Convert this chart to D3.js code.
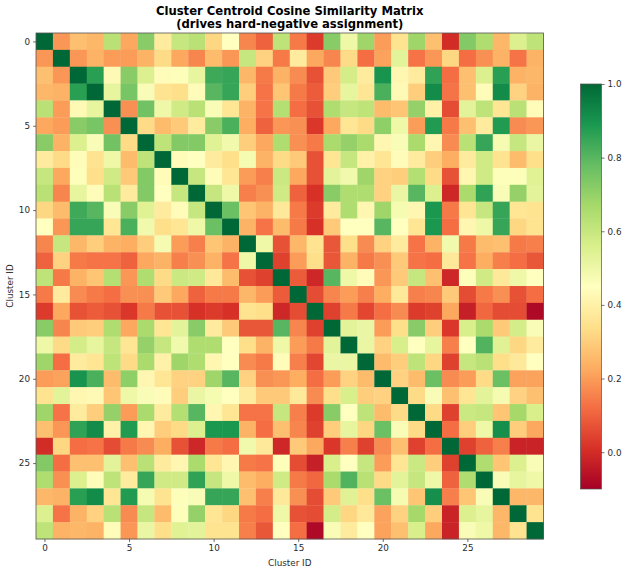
<!DOCTYPE html>
<html>
<head>
<meta charset="utf-8">
<script src="https://cdnjs.cloudflare.com/ajax/libs/d3/7.8.5/d3.min.js"></script>
<style>
  html, body { margin: 0; padding: 0; background: #fff; }
  svg { display: block; }
  text { font-family: "DejaVu Sans", sans-serif; fill: #2b2b2b; }
</style>
</head>
<body>
<svg id="chart" width="628" height="573"></svg>
<script>
// Upper triangle of the centroid similarity matrix, one list per cluster,
// each starting at its own diagonal entry.
const row00 = [1,.19,.27,.25,.63,.22,.72,.38,.6,.63,.32,.45,.16,.1,.62,.14,.03,.72,.5,.68,.2,.35,.68,.27,0,.73,.65,.25,.55,.62];
const row01 = [1,.19,.24,.2,.2,.24,.33,.22,.16,.26,.19,.6,.31,.14,.38,.22,.16,.33,.12,.21,.53,.13,.19,.32,.12,.18,.24,.13,.24];
const row02 = [1,.87,.43,.72,.55,.44,.46,.52,.84,.85,.25,.14,.24,.17,.07,.29,.57,.38,.9,.42,.38,.86,.12,.27,.55,.87,.24,.25];
const row03 = [1,.52,.75,.47,.35,.34,.44,.8,.85,.3,.13,.28,.14,.09,.3,.52,.36,.82,.43,.3,.92,.13,.27,.44,.92,.31,.24];
const row04 = [1,.18,.76,.5,.58,.63,.47,.36,.24,.13,.64,.12,.07,.65,.6,.62,.26,.28,.7,.4,.06,.53,.62,.36,.63,.44];
const row05 = [1,.33,.26,.29,.38,.72,.82,.23,.1,.19,.18,.02,.22,.36,.33,.71,.5,.2,.88,.14,.27,.38,.88,.17,.19];
const row06 = [1,.62,.73,.73,.54,.49,.3,.22,.65,.18,.14,.66,.7,.66,.42,.47,.66,.42,.17,.63,.85,.48,.6,.51];
const row07 = [1,.44,.45,.38,.34,.48,.24,.33,.29,.07,.36,.6,.4,.36,.44,.38,.3,.23,.38,.58,.35,.26,.34];
const row08 = [1,.6,.44,.36,.2,.15,.59,.22,.07,.53,.49,.68,.31,.3,.64,.33,.07,.42,.58,.46,.46,.54];
const row09 = [1,.6,.5,.15,.18,.58,.1,.01,.72,.65,.65,.31,.51,.8,.55,-.01,.66,.86,.47,.7,.53];
const row10 = [1,.77,.28,.24,.37,.14,.03,.38,.65,.42,.68,.48,.42,.89,.14,.36,.6,.85,.36,.35];
const row11 = [1,.24,.13,.26,.14,.01,.29,.45,.45,.8,.45,.36,.89,.12,.42,.5,.85,.32,.35];
const row12 = [1,.5,.07,.25,.35,.08,.34,.17,.31,.38,.13,.24,.49,.14,.26,.27,.14,.15];
const row13 = [1,.04,.2,.34,.08,.24,.14,.18,.29,.13,.12,.37,.13,.23,.15,.12,.08];
const row14 = [1,.09,-.01,.8,.5,.44,.19,.29,.6,.27,-.01,.46,.58,.37,.5,.45];
const row15 = [1,.06,.16,.2,.15,.23,.37,.15,.16,.29,.06,.14,.18,.07,.12];
const row16 = [1,.04,.14,.05,.12,.17,.03,.04,.22,-.03,.11,.06,.06,-.08];
const row17 = [1,.53,.51,.2,.34,.72,.3,.02,.56,.66,.29,.57,.47];
const row18 = [1,.51,.31,.56,.45,.52,.15,.45,.81,.54,.32,.38];
const row19 = [1,.26,.3,.62,.32,.04,.6,.63,.34,.37,.45];
const row20 = [1,.31,.26,.77,.17,.2,.33,.77,.21,.21];
const row21 = [1,.33,.47,.27,.36,.53,.48,.31,.27];
const row22 = [1,.33,.04,.59,.6,.28,.67,.56];
const row23 = [1,.12,.3,.5,.91,.3,.22];
const row24 = [1,.04,.1,.15,-.02,-.02];
const row25 = [1,.65,.28,.55,.47];
const row26 = [1,.47,.52,.5];
const row27 = [1,.25,.25];
const row28 = [1,.35];
const row29 = [1];

const upperRows = [row00,row01,row02,row03,row04,row05,row06,row07,row08,row09,
                   row10,row11,row12,row13,row14,row15,row16,row17,row18,row19,
                   row20,row21,row22,row23,row24,row25,row26,row27,row28,row29];

const clusterTicks = [0, 5, 10, 15, 20, 25];
const colorbarTicks = [0, 0.2, 0.4, 0.6, 0.8, 1];
const titleLines = ["Cluster Centroid Cosine Similarity Matrix", "(drives hard-negative assignment)"];
const axisName = "Cluster ID";
const valueMin = -0.1, valueMax = 1.0;

// Eleven-class red-yellow-green ramp, linear between the class colours.
const rampColors = ["#a50026","#d73027","#f46d43","#fdae61","#fee08b","#ffffbf","#d9ef8b","#a6d96a","#66bd63","#1a9850","#006837"];

const n = upperRows.length;
const cells = [];
upperRows.forEach((row, i) => row.forEach((v, k) => {
  const j = i + k;
  cells.push({ i, j, v });
  if (i !== j) cells.push({ i: j, j: i, v });
}));

const color = d3.scaleLinear()
  .domain(rampColors.map((_, k) => valueMin + (valueMax - valueMin) * k / (rampColors.length - 1)))
  .range(rampColors)
  .clamp(true);

const box = { left: 36, right: 543.5, top: 33, bottom: 539 };
const x = d3.scaleLinear().domain([-0.5, n - 0.5]).range([box.left, box.right]);
const y = d3.scaleLinear().domain([-0.5, n - 0.5]).range([box.top, box.bottom]);

const svg = d3.select("#chart");

// Heatmap cells; the small overlap hides seams between neighbours.
svg.append("g").selectAll("rect").data(cells).join("rect")
  .attr("x", d => x(d.j - 0.5))
  .attr("y", d => y(d.i - 0.5))
  .attr("width", x(1) - x(0) + 0.3)
  .attr("height", y(1) - y(0) + 0.3)
  .attr("fill", d => color(d.v));

// Frame
svg.append("rect")
  .attr("x", box.left).attr("y", box.top)
  .attr("width", box.right - box.left).attr("height", box.bottom - box.top)
  .attr("fill", "none").attr("stroke", "#555").attr("stroke-width", 0.8);

function styleAxis(g) {
  g.select(".domain").remove();
  g.selectAll("line").attr("stroke", "#333").attr("stroke-width", 0.7);
  g.selectAll("text").attr("font-size", 8.8).attr("font-family", '"DejaVu Sans", sans-serif').attr("fill", "#2b2b2b");
}

svg.append("g")
  .attr("transform", `translate(0,${box.bottom})`)
  .call(d3.axisBottom(x).tickValues(clusterTicks).tickSize(3).tickPadding(3).tickFormat(d3.format("d")))
  .call(styleAxis);

svg.append("g")
  .attr("transform", `translate(${box.left},0)`)
  .call(d3.axisLeft(y).tickValues(clusterTicks).tickSize(3).tickPadding(3).tickFormat(d3.format("d")))
  .call(styleAxis);

svg.append("text")
  .attr("x", (box.left + box.right) / 2).attr("y", 565.5)
  .attr("text-anchor", "middle").attr("font-size", 8.8).text(axisName);

svg.append("text")
  .attr("transform", `translate(13,${(box.top + box.bottom) / 2}) rotate(-90)`)
  .attr("text-anchor", "middle").attr("font-size", 8.8).text(axisName);

// Two-line title
svg.append("g").selectAll("text").data(titleLines).join("text")
  .attr("x", (box.left + box.right) / 2)
  .attr("y", (d, k) => 15 + k * 13)
  .attr("text-anchor", "middle")
  .attr("font-size", 11.6)
  .attr("font-weight", "bold")
  .style("fill", "#000")
  .text(d => d);

// Colorbar
const bar = { left: 580.5, right: 601.5, top: 84, bottom: 489 };
const barScale = d3.scaleLinear().domain([valueMin, valueMax]).range([bar.bottom, bar.top]);

const gradient = svg.append("defs").append("linearGradient")
  .attr("id", "ramp").attr("x1", 0).attr("x2", 0).attr("y1", 1).attr("y2", 0);
gradient.selectAll("stop").data(rampColors).join("stop")
  .attr("offset", (_, k) => k / (rampColors.length - 1))
  .attr("stop-color", d => d);

svg.append("rect")
  .attr("x", bar.left).attr("y", bar.top)
  .attr("width", bar.right - bar.left).attr("height", bar.bottom - bar.top)
  .attr("fill", "url(#ramp)").attr("stroke", "#555").attr("stroke-width", 0.7);

svg.append("g")
  .attr("transform", `translate(${bar.right},0)`)
  .call(d3.axisRight(barScale).tickValues(colorbarTicks).tickSize(3).tickPadding(3).tickFormat(d3.format(".1f")))
  .call(styleAxis);
</script>
</body>
</html>
